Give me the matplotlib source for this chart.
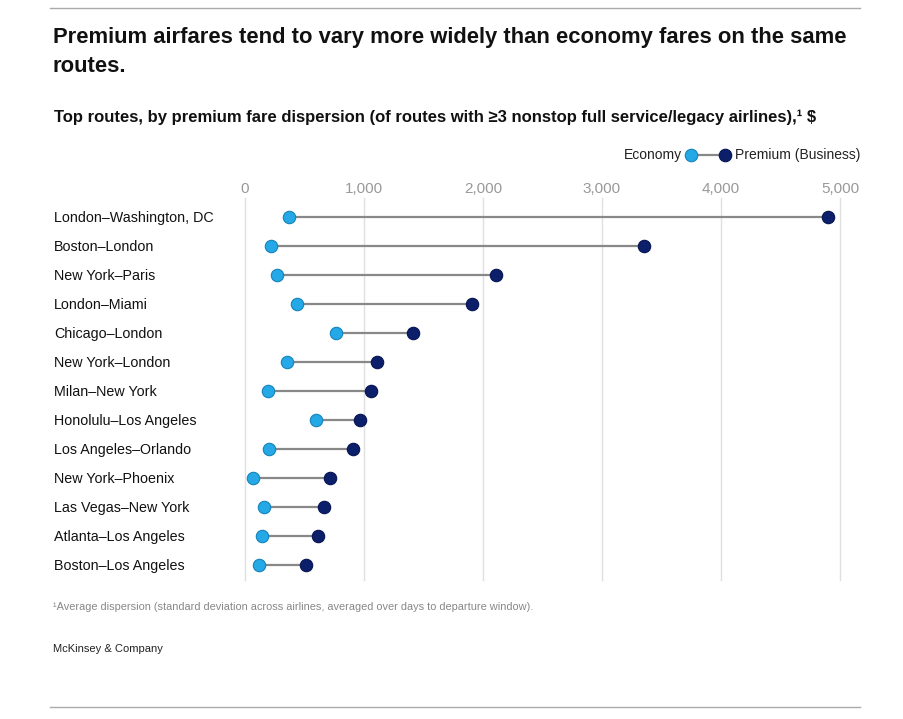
import matplotlib.pyplot as plt
from matplotlib.lines import Line2D

routes = ["London–Washington, DC", "Boston–London", "New York–Paris", "London–Miami",
          "Chicago–London", "New York–London", "Milan–New York", "Honolulu–Los Angeles",
          "Los Angeles–Orlando", "New York–Phoenix", "Las Vegas–New York",
          "Atlanta–Los Angeles", "Boston–Los Angeles"]
economy = [370, 220, 270, 440, 765, 350, 195, 600, 200, 65, 160, 145, 120]
premium = [4900, 3355, 2110, 1910, 1410, 1110, 1060, 965, 910, 715, 665, 615, 515]
ticks = [0, 1000, 2000, 3000, 4000, 5000]

ECON = "#25a9e6"
PREM = "#0c1f6b"
LINE = "#888888"

plt.rcParams['font.family'] = ['Liberation Sans', 'DejaVu Sans']

W, H = 904, 719
fig = plt.figure(figsize=(W / 100, H / 100), dpi=100)

def fx(px): return px / W
def fy(py): return 1 - py / H

ax = fig.add_axes([fx(245), fy(580), fx(840) - fx(245), fy(198) - fy(580)])
ax.set_xlim(0, 5000)
ax.set_ylim(12.52, -0.66)

for i in range(len(routes)):
    ax.plot([economy[i], premium[i]], [i, i], color=LINE, lw=1.6, zorder=2)
ax.scatter(economy, range(len(routes)), s=80, color=ECON, edgecolor="#1483bd", linewidth=0.8, zorder=3, clip_on=False)
ax.scatter(premium, range(len(routes)), s=80, color=PREM, edgecolor="#061450", linewidth=0.8, zorder=3, clip_on=False)

ax.set_xticks(ticks)
ax.set_xticklabels([f"{t:,}" for t in ticks])
ax.xaxis.tick_top()
ax.tick_params(axis="x", length=0, pad=1.5, labelsize=11, labelcolor="#999999")
ax.grid(axis="x", color="#e0e0e0", lw=1, zorder=0, clip_on=False)
ax.axvline(0, color="#c8c8c8", lw=1.2, zorder=1)
ax.set_yticks(range(len(routes)))
ax.set_yticklabels([])
ax.tick_params(axis="y", length=0)
for s in ax.spines.values():
    s.set_visible(False)

for i, r in enumerate(routes):
    fig.text(fx(54), fy(218 + 29 * i), r, fontsize=10.3, color="#111111", va="center", ha="left")

# rules
fig.add_artist(Line2D([fx(50), fx(860)], [fy(8), fy(8)], color="#aaaaaa", lw=1))
fig.add_artist(Line2D([fx(50), fx(860)], [fy(707), fy(707)], color="#aaaaaa", lw=1))

fig.text(fx(53), fy(38), "Premium airfares tend to vary more widely than economy fares on the same",
         fontsize=15.8, fontweight="bold", color="#111111", va="center")
fig.text(fx(53), fy(67), "routes.", fontsize=15.8, fontweight="bold", color="#111111", va="center")
fig.text(fx(54), fy(117), "Top routes, by premium fare dispersion (of routes with ≥3 nonstop full service/legacy airlines),\u00b9 $",
         fontsize=12, fontweight="bold", color="#111111", va="center")

# legend
fig.text(fx(682), fy(155), "Economy", fontsize=10, color="#222222", ha="right", va="center")
fig.add_artist(Line2D([fx(691), fx(725)], [fy(155), fy(155)], color=LINE, lw=1.6))
fig.add_artist(Line2D([fx(691)], [fy(155)], marker="o", ms=9, color=ECON, mec="#1483bd", mew=0.8))
fig.add_artist(Line2D([fx(725)], [fy(155)], marker="o", ms=9, color=PREM, mec="#061450", mew=0.8))
fig.text(fx(735), fy(155), "Premium (Business)", fontsize=10, color="#222222", ha="left", va="center")

fig.text(fx(53), fy(607), "\u00b9Average dispersion (standard deviation across airlines, averaged over days to departure window).",
         fontsize=7.9, color="#888888", va="center")
fig.text(fx(53), fy(649), "McKinsey & Company", fontsize=8, color="#222222", va="center")

fig.savefig("out.png", dpi=100)
